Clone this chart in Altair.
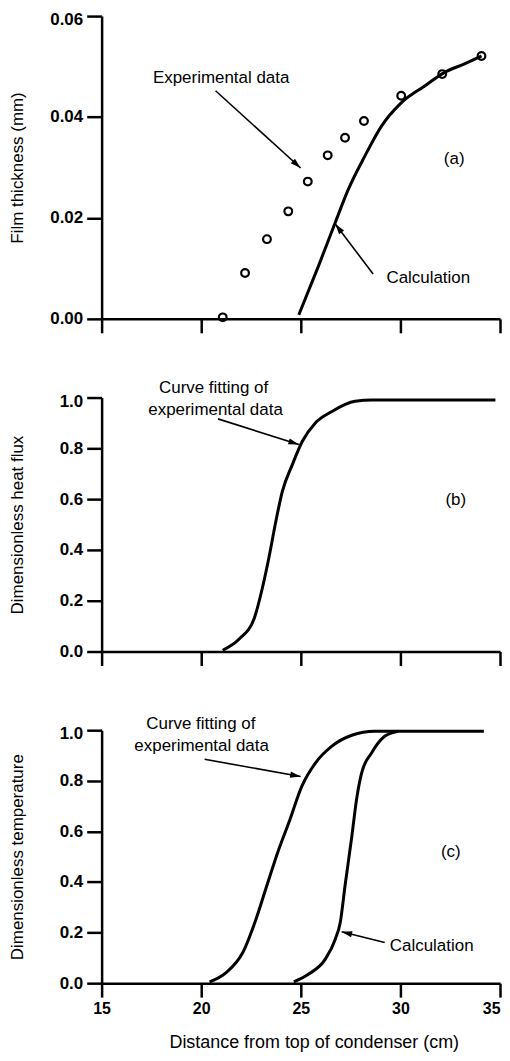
import math
import altair as alt
import pandas as pd

FONT = "Liberation Sans"
W = 400
H_A, H_B, H_C = 304, 255, 254
X_MIN, X_MAX = 15, 35

x_ticks = [15, 20, 25, 30, 35]
a_ticks = [0.0, 0.02, 0.04, 0.06]
bc_ticks = [0.0, 0.2, 0.4, 0.6, 0.8, 1.0]

# ---- panel (a): film thickness ----
a_exp_x = [21.08, 22.2, 23.3, 24.37, 25.35, 26.35, 27.22, 28.17, 30.04, 32.1, 34.07]
a_exp_y = [0.0003, 0.0091, 0.0158, 0.0213, 0.0272, 0.0324, 0.0359, 0.0392, 0.0442, 0.0485, 0.0521]
a_calc_x = [24.9, 25.9, 26.73, 27.39, 28.22, 29.05, 30.04, 31.2, 32.2, 33.19, 34.07]
a_calc_y = [0.0008, 0.0106, 0.0191, 0.0257, 0.0323, 0.0382, 0.0428, 0.0461, 0.0488, 0.0505, 0.0521]

# ---- panel (b): dimensionless heat flux ----
b_fit_x = [21.08, 21.92, 22.66, 23.07, 23.4, 23.74, 24.07, 24.57, 25.07, 25.73, 26.56, 27.72, 28.6, 34.77]
b_fit_y = [0.005, 0.05, 0.13, 0.25, 0.37, 0.51, 0.63, 0.735, 0.827, 0.90, 0.945, 0.985, 0.99, 0.99]

# ---- panel (c): dimensionless temperature ----
c_fit_x = [20.42, 21.25, 22.08, 22.75, 23.24, 23.9, 24.4, 25.06, 25.73, 26.56, 27.56, 28.7, 34.19]
c_fit_y = [0.005, 0.042, 0.12, 0.253, 0.372, 0.53, 0.635, 0.78, 0.87, 0.937, 0.98, 0.996, 0.996]
c_calc_x = [24.65, 25.4, 26.23, 26.73, 26.98, 27.22, 27.56, 27.8, 28.05, 28.55, 29.21, 29.88]
c_calc_y = [0.005, 0.036, 0.095, 0.174, 0.24, 0.385, 0.58, 0.727, 0.83, 0.91, 0.976, 0.996]

# ---- annotations (data coordinates) ----
a_text = ["Experimental data", "Calculation", "(a)"]
a_text_x = [21.0, 31.4, 32.7]
a_text_y = [0.0478, 0.0081, 0.0316]
a_arrow_x = [20.72, 28.63]
a_arrow_y = [0.0452, 0.0089]
a_arrow_x2 = [24.99, 26.73]
a_arrow_y2 = [0.0299, 0.0188]

b_text = ["Curve fitting of", "experimental data", "(b)"]
b_text_x = [20.62, 20.72, 32.78]
b_text_y = [1.036, 0.952, 0.595]
b_arrow_x = [20.84]
b_arrow_y = [0.916]
b_arrow_x2 = [24.9]
b_arrow_y2 = [0.815]

c_text = ["Curve fitting of", "experimental data", "(c)", "Calculation"]
c_text_x = [19.98, 20.02, 32.53, 31.57]
c_text_y = [1.024, 0.936, 0.519, 0.147]
c_arrow_x = [20.17, 29.21]
c_arrow_y = [0.885, 0.161]
c_arrow_x2 = [24.99, 27.05]
c_arrow_y2 = [0.817, 0.203]

ARROW_PATH = "M0,0L0.6,2L-0.6,2Z"


def x_enc(field, labels, title=None):
    ax = dict(values=x_ticks, grid=False, domainColor="black", domainWidth=2.5,
              tickColor="black", tickWidth=2.5, tickSize=14, labels=labels,
              labelFont=FONT, labelFontSize=16, labelFontWeight="bold",
              labelColor="black", labelPadding=3, format="d",
              labelAlign={"condition": {"test": "datum.value >= 35", "value": "right"},
                          "value": "center"})
    if title:
        ax.update(title=title, titleFont=FONT, titleFontSize=18, titleFontWeight="normal",
                  titleColor="black", titleX=213, titleY=60, titleBaseline="middle",
                  titleAlign="center")
    else:
        ax.update(title=None)
    return alt.X(f"{field}:Q", scale=alt.Scale(domain=[X_MIN, X_MAX], nice=False),
                 axis=alt.Axis(**ax))


def y_enc(field, dom, ticks, fmt, title):
    top = dom[1]
    return alt.Y(f"{field}:Q", scale=alt.Scale(domain=dom, nice=False),
                 axis=alt.Axis(values=ticks, format=fmt, grid=False, domainColor="black",
                               domainWidth=2.5, tickColor="black", tickWidth=2.5,
                               tickSize=15, labelFont=FONT, labelFontSize=17,
                               labelFontWeight="bold", labelColor="black", labelPadding=4,
                               labelOffset={"condition": {"test": f"datum.value >= {top * 0.99}",
                                                          "value": 3.5}, "value": 0},
                               title=title, titleFont=FONT, titleFontSize=17,
                               titleFontWeight="normal", titleColor="black",
                               titleX=-84, titleBaseline="middle"))


def line_layer(xs, ys, dom, ticks, fmt, title, labels=False, xtitle=None):
    df = pd.DataFrame({"x": xs, "y": ys})
    return alt.Chart(df).mark_line(color="black", strokeWidth=3,
                                   interpolate="monotone").encode(
        x=x_enc("x", labels, xtitle), y=y_enc("y", dom, ticks, fmt, title))


def text_layer(texts, xs, ys, size=17):
    df = pd.DataFrame({"t": texts, "x": xs, "y": ys})
    return alt.Chart(df).mark_text(font=FONT, fontSize=size, color="black",
                                   align="center", baseline="middle").encode(
        x="x:Q", y="y:Q", text="t:N")


def arrow_layers(x1, y1, x2, y2, ppx, ppy):
    angles = []
    for a, b, c, d in zip(x1, y1, x2, y2):
        dx = (c - a) * ppx
        dy = -(d - b) * ppy
        angles.append(math.degrees(math.atan2(dx, -dy)) % 360)
    df = pd.DataFrame({"x": x1, "y": y1, "x2": x2, "y2": y2, "ang": angles})
    rule = alt.Chart(df).mark_rule(color="black", strokeWidth=1.6).encode(
        x="x:Q", y="y:Q", x2="x2:Q", y2="y2:Q")
    head = alt.Chart(df).mark_point(shape=ARROW_PATH, filled=True, size=110,
                                    color="black", opacity=1, strokeWidth=0).encode(
        x="x2:Q", y="y2:Q", angle=alt.Angle("ang:Q", scale=None))
    return [rule, head]


ppx = W / (X_MAX - X_MIN)

# panel a
a_line = line_layer(a_calc_x, a_calc_y, [0, 0.06], a_ticks, ".2f", "Film thickness (mm)")
a_pts = alt.Chart(pd.DataFrame({"x": a_exp_x, "y": a_exp_y})).mark_point(
    shape="circle", filled=False, size=60, strokeWidth=2.2, color="black", opacity=1
).encode(x="x:Q", y="y:Q")
panel_a = alt.layer(
    a_line, a_pts, text_layer(a_text, a_text_x, a_text_y),
    *arrow_layers(a_arrow_x, a_arrow_y, a_arrow_x2, a_arrow_y2, ppx, H_A / 0.06)
).properties(width=W, height=H_A)

# panel b
b_line = line_layer(b_fit_x, b_fit_y, [0, 1], bc_ticks, ".1f", "Dimensionless heat flux")
panel_b = alt.layer(
    b_line, text_layer(b_text, b_text_x, b_text_y),
    *arrow_layers(b_arrow_x, b_arrow_y, b_arrow_x2, b_arrow_y2, ppx, H_B / 1.0)
).properties(width=W, height=H_B)

# panel c
c_fit = line_layer(c_fit_x, c_fit_y, [0, 1], bc_ticks, ".1f", "Dimensionless temperature",
                   labels=True, xtitle="Distance from top of condenser (cm)")
c_calc = line_layer(c_calc_x, c_calc_y, [0, 1], bc_ticks, ".1f", "Dimensionless temperature",
                    labels=True, xtitle="Distance from top of condenser (cm)")
panel_c = alt.layer(
    c_fit, c_calc, text_layer(c_text, c_text_x, c_text_y),
    *arrow_layers(c_arrow_x, c_arrow_y, c_arrow_x2, c_arrow_y2, ppx, H_C / 1.0)
).properties(width=W, height=H_C)

chart = alt.vconcat(panel_a, panel_b, panel_c, spacing=79, bounds="flush").configure_view(
    stroke=None
).properties(padding={"left": 0, "top": 0, "right": 0, "bottom": 0},
             background="white")

chart.save("out.html", embed_options={"renderer": "svg", "actions": False})
